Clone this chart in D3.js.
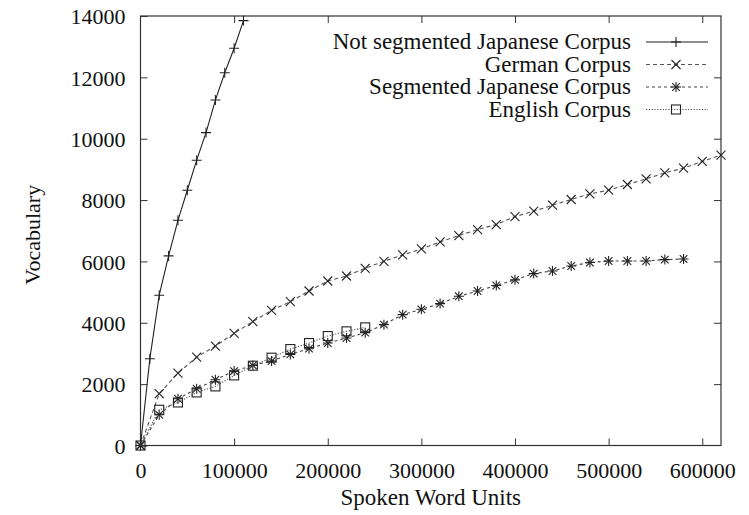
<!DOCTYPE html>
<html>
<head>
<meta charset="utf-8">
<script src="https://cdn.jsdelivr.net/npm/d3@7"></script>
<style>
  html, body { margin: 0; padding: 0; background: #fff; }
  svg { display: block; }
</style>
</head>
<body>
<svg id="chart" width="749" height="515"></svg>
<script>
// Vocabulary growth versus number of spoken word units
const xNotSeg = [0, 10000, 20000, 30000, 40000, 50000, 60000, 70000, 80000, 90000, 100000, 110000];
const notSegmentedJapanese = [0, 2830, 4900, 6180, 7340, 8320, 9300, 10200, 11260, 12150, 12950, 13850];

const xGerman = [0, 20000, 40000, 60000, 80000, 100000, 120000, 140000, 160000, 180000, 200000,
  220000, 240000, 260000, 280000, 300000, 320000, 340000, 360000, 380000, 400000,
  420000, 440000, 460000, 480000, 500000, 520000, 540000, 560000, 580000, 600000, 620000];
const german = [0, 1690, 2360, 2880, 3240, 3655, 4040, 4405, 4690, 5036, 5362,
  5525, 5777, 6005, 6211, 6407, 6635, 6844, 7040, 7203, 7460,
  7637, 7833, 8019, 8202, 8322, 8508, 8691, 8887, 9040, 9259, 9465];

const xSegJapanese = [0, 20000, 40000, 60000, 80000, 100000, 120000, 140000, 160000, 180000, 200000,
  220000, 240000, 260000, 280000, 300000, 320000, 340000, 360000, 380000, 400000,
  420000, 440000, 460000, 480000, 500000, 520000, 540000, 560000, 580000];
const segmentedJapanese = [0, 1002, 1524, 1850, 2144, 2425, 2611, 2751, 2970, 3156, 3339,
  3502, 3678, 3939, 4266, 4439, 4625, 4863, 5036, 5215, 5400,
  5604, 5689, 5852, 5963, 6015, 6015, 6015, 6060, 6080];

const xEnglish = [0, 20000, 40000, 60000, 80000, 100000, 120000, 140000, 160000, 180000, 200000, 220000, 240000];
const english = [0, 1165, 1403, 1730, 1926, 2285, 2601, 2862, 3143, 3339, 3567, 3721, 3851];

const xTicks = [0, 100000, 200000, 300000, 400000, 500000, 600000];
const yTicks = [0, 2000, 4000, 6000, 8000, 10000, 12000, 14000];

const seriesNames = ["Not segmented Japanese Corpus", "German Corpus", "Segmented Japanese Corpus", "English Corpus"];

const series = [
  { name: seriesNames[0], xs: xNotSeg, ys: notSegmentedJapanese, marker: "plus", dash: null, color: "#222" },
  { name: seriesNames[1], xs: xGerman, ys: german, marker: "cross", dash: "4,3", color: "#555" },
  { name: seriesNames[2], xs: xSegJapanese, ys: segmentedJapanese, marker: "star", dash: "3,3", color: "#444" },
  { name: seriesNames[3], xs: xEnglish, ys: english, marker: "square", dash: "1.2,1.6", color: "#555" }
];

const FONT = "'Liberation Serif', 'Times New Roman', serif";

const svg = d3.select("#chart");
const plotLeft = 140.5, plotRight = 721, plotTop = 16, plotBottom = 445.5;

const x = d3.scaleLinear().domain([0, 620000]).range([plotLeft, plotRight]);
const y = d3.scaleLinear().domain([0, 14000]).range([plotBottom, plotTop]);

const tickLen = 7;
const axisColor = "#333";

// axes with inward ticks, mirrored on the opposite sides
const gx = svg.append("g").attr("transform", `translate(0,${plotBottom})`)
  .call(d3.axisBottom(x).tickValues(xTicks).tickFormat(d3.format("d")).tickSizeInner(-tickLen).tickSizeOuter(0).tickPadding(17));
const gxTop = svg.append("g").attr("transform", `translate(0,${plotTop})`)
  .call(d3.axisTop(x).tickValues(xTicks.filter(d => d > 0)).tickFormat("").tickSizeInner(-tickLen).tickSizeOuter(0));
const gy = svg.append("g").attr("transform", `translate(${plotLeft},0)`)
  .call(d3.axisLeft(y).tickValues(yTicks).tickFormat(d3.format("d")).tickSizeInner(-tickLen).tickSizeOuter(0).tickPadding(15));
const gyRight = svg.append("g").attr("transform", `translate(${plotRight},0)`)
  .call(d3.axisRight(y).tickValues(yTicks.filter(d => d > 0 && d < 14000)).tickFormat("").tickSizeInner(-tickLen).tickSizeOuter(0));

[gx, gxTop, gy, gyRight].forEach(g => {
  g.attr("font-family", null).attr("font-size", null);
  g.select(".domain").remove();
  g.selectAll(".tick line").attr("stroke", axisColor).attr("stroke-width", 1);
  g.selectAll("text").style("font-family", FONT).style("font-size", "22px").attr("fill", "#111");
});
gy.selectAll("text").attr("dy", "0.35em");
gx.selectAll("text").attr("dy", "0.71em");

// plot frame
svg.append("rect")
  .attr("x", plotLeft).attr("y", plotTop)
  .attr("width", plotRight - plotLeft).attr("height", plotBottom - plotTop)
  .attr("fill", "none").attr("stroke", axisColor).attr("stroke-width", 1.2);

// axis titles
svg.append("text")
  .attr("x", (plotLeft + plotRight) / 2).attr("y", 505)
  .attr("text-anchor", "middle")
  .style("font-family", FONT).style("font-size", "23px").attr("fill", "#111")
  .text("Spoken Word Units");
svg.append("text")
  .attr("transform", `translate(40,${(plotTop + plotBottom) / 2 + 4}) rotate(-90)`)
  .attr("text-anchor", "middle")
  .style("font-family", FONT).style("font-size", "22px").attr("fill", "#111")
  .text("Vocabulary");

// marker shapes
function drawMarker(g, type, cx, cy, color) {
  const s = 5;
  if (type === "plus" || type === "star") {
    g.append("line").attr("x1", cx - s).attr("x2", cx + s).attr("y1", cy).attr("y2", cy);
    g.append("line").attr("x1", cx).attr("x2", cx).attr("y1", cy - s).attr("y2", cy + s);
  }
  if (type === "cross" || type === "star") {
    const d = type === "star" ? 3.8 : 4.5;
    g.append("line").attr("x1", cx - d).attr("x2", cx + d).attr("y1", cy - d).attr("y2", cy + d);
    g.append("line").attr("x1", cx - d).attr("x2", cx + d).attr("y1", cy + d).attr("y2", cy - d);
  }
  if (type === "square") {
    g.append("rect").attr("x", cx - 4.5).attr("y", cy - 4.5).attr("width", 9).attr("height", 9)
      .attr("fill", "none");
  }
  g.selectAll("line, rect").attr("stroke", color).attr("stroke-width", 1.1);
}

const clipId = "plotClip";
svg.append("clipPath").attr("id", clipId).append("rect")
  .attr("x", plotLeft - 6).attr("y", plotTop - 6).attr("width", plotRight - plotLeft + 12).attr("height", plotBottom - plotTop + 12);

const line = d3.line().x(d => x(d[0])).y(d => y(d[1]));
const plot = svg.append("g").attr("clip-path", `url(#${clipId})`);

series.forEach(s => {
  const pts = s.xs.map((v, i) => [v, s.ys[i]]);
  plot.append("path")
    .datum(pts)
    .attr("d", line)
    .attr("fill", "none")
    .attr("stroke", s.color)
    .attr("stroke-width", 1.1)
    .attr("stroke-dasharray", s.dash);
  const mg = plot.append("g");
  pts.forEach(p => drawMarker(mg.append("g"), s.marker, x(p[0]), y(p[1]), "#222"));
});

// legend
const legendBaselines = [49, 71.5, 94, 116.5];
const legend = svg.append("g");
series.forEach((s, i) => {
  const by = legendBaselines[i];
  legend.append("text")
    .attr("x", 631).attr("y", by)
    .attr("text-anchor", "end")
    .style("font-family", FONT).style("font-size", "23px").attr("fill", "#111")
    .text(s.name);
  const ly = by - 7;
  legend.append("line")
    .attr("x1", 646).attr("x2", 708).attr("y1", ly).attr("y2", ly)
    .attr("stroke", s.color).attr("stroke-width", 1.1)
    .attr("stroke-dasharray", s.dash);
  drawMarker(legend.append("g"), s.marker, 676, ly, "#222");
});
</script>
</body>
</html>
